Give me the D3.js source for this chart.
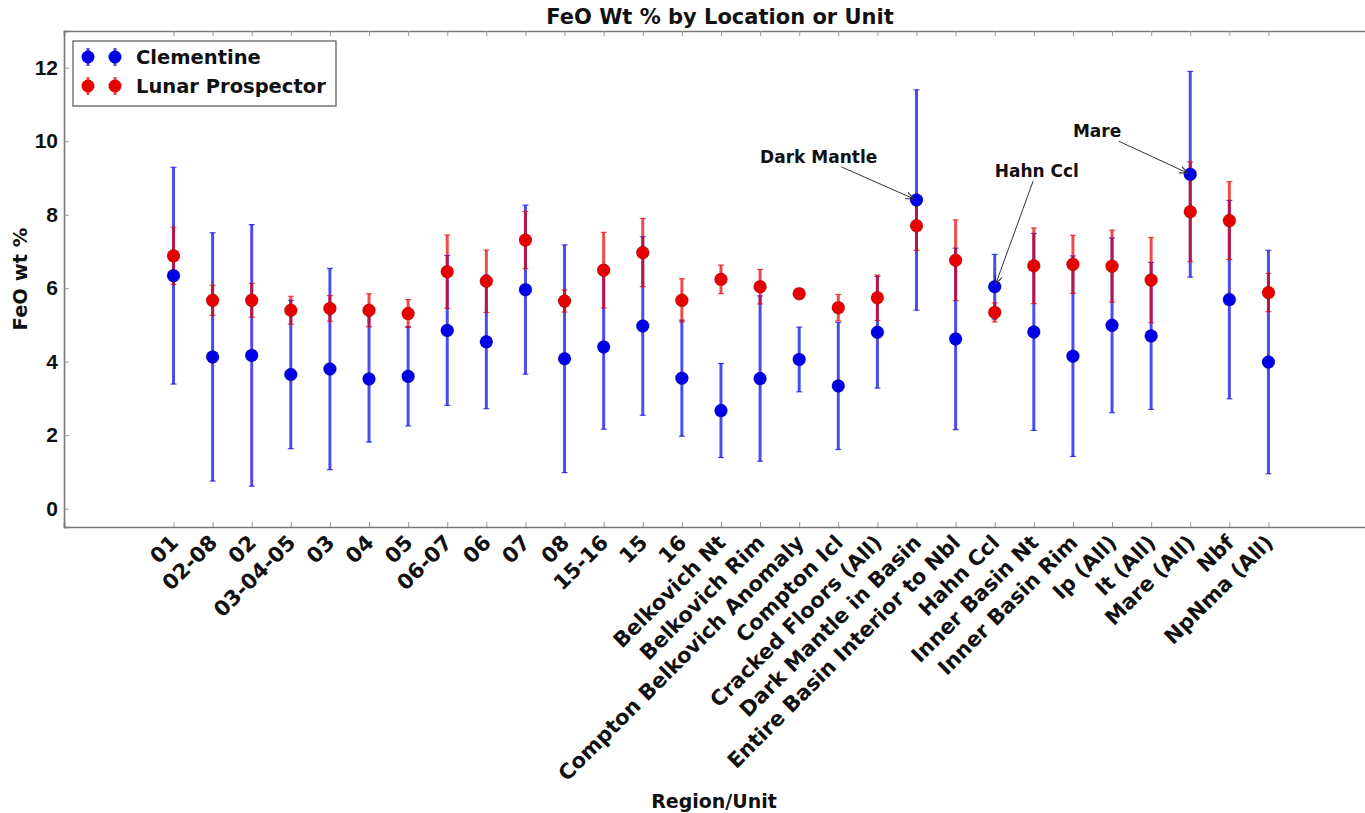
<!DOCTYPE html>
<html>
  <head>
    <meta charset="utf-8">
    <title>FeO Wt % by Location or Unit</title>
    <script src="https://d3js.org/d3.v7.min.js"></script>
    <style>
      body { margin: 0; background: #fff; }
      svg { display: block; font-family: 'DejaVu Sans', sans-serif; font-weight: bold; }
    </style>
  </head>
  <body>
    <svg id="svg"></svg>
    <script type="text/javascript">
// region / unit names, in plot order
var regions = ["01", "02-08", "02", "03-04-05", "03", "04", "05", "06-07", "06", "07", "08",
  "15-16", "15", "16", "Belkovich Nt", "Belkovich Rim", "Compton Belkovich Anomaly",
  "Compton Icl", "Cracked Floors (All)", "Dark Mantle in Basin", "Entire Basin Interior to Nbl",
  "Hahn Ccl", "Inner Basin Nt", "Inner Basin Rim", "Ip (All)", "It (All)", "Mare (All)",
  "Nbf", "NpNma (All)"];

// Clementine FeO mean and error
var clemMean = [6.34, 4.13, 4.17, 3.65, 3.80, 3.53, 3.60, 4.85, 4.54, 5.96, 4.08, 4.40, 4.97,
  3.55, 2.67, 3.54, 4.06, 3.34, 4.80, 8.40, 4.62, 6.04, 4.81, 4.15, 4.99, 4.70, 9.10, 5.69, 3.99];
var clemErr = [2.95, 3.38, 3.56, 2.02, 2.74, 1.72, 1.35, 2.04, 1.82, 2.30, 3.10, 2.24, 2.43,
  1.58, 1.28, 2.25, 0.88, 1.73, 1.52, 3.00, 2.47, 0.88, 2.68, 2.73, 2.38, 2.00, 2.80, 2.70, 3.04];

// Lunar Prospector FeO mean and error
var lpMean = [6.88, 5.67, 5.67, 5.40, 5.45, 5.40, 5.31, 6.45, 6.19, 7.31, 5.65, 6.49, 6.97,
  5.67, 6.24, 6.04, 5.85, 5.47, 5.74, 7.70, 6.76, 5.34, 6.61, 6.65, 6.60, 6.22, 8.08, 7.84, 5.88];
var lpErr = [0.78, 0.41, 0.46, 0.38, 0.35, 0.45, 0.38, 1.00, 0.85, 0.78, 0.30, 1.03, 0.93,
  0.59, 0.39, 0.47, 0.08, 0.36, 0.62, 0.67, 1.10, 0.26, 1.03, 0.79, 0.98, 1.16, 1.36, 1.06, 0.52];

var yTicks = [0, 2, 4, 6, 8, 10, 12];

// annotations: label, target (index, value), text position (index, value)
var notes = [
  {text: "Dark Mantle", x: 19, y: 8.40, tx: 15.0, ty: 9.41},
  {text: "Hahn Ccl", x: 21, y: 6.04, tx: 21.0, ty: 9.03},
  {text: "Mare", x: 26, y: 9.10, tx: 23.0, ty: 10.11}
];

var W = 1365, H = 813;
var mLeft = 64, mRight = 1376, mTop = 31, mBottom = 527;

var svg = d3.select('#svg').attr('width', W).attr('height', H);

var x = d3.scaleLinear().domain([-2.8, 30.75]).range([mLeft, mRight]);
var y = d3.scaleLinear().domain([-0.5, 13]).range([mBottom, mTop]);

var blue = '#0000e6', red = '#e60000';

// axes (ticks pointing inward like old matplotlib)
var bottomAxis = d3.axisBottom(x).tickValues(d3.range(regions.length)).tickSize(-5).tickFormat('');
var topAxis = d3.axisTop(x).tickValues(d3.range(regions.length)).tickSize(-5).tickFormat('');
var leftAxis = d3.axisLeft(y).tickValues(yTicks).tickSize(-5).tickPadding(6).tickFormat(d3.format('d'));

svg.append('g').attr('transform', 'translate(0,' + mBottom + ')').call(bottomAxis);
svg.append('g').attr('transform', 'translate(0,' + mTop + ')').call(topAxis);
var ly = svg.append('g').attr('transform', 'translate(' + mLeft + ',0)').call(leftAxis);
ly.selectAll('text').style('font-size', '21px').style('font-weight', 'bold').attr('fill', '#111');
svg.selectAll('.domain').attr('stroke', '#777').attr('stroke-width', 1.6);
svg.selectAll('.tick line').attr('stroke', '#999');

// rotated x tick labels
svg.append('g').selectAll('text')
  .data(regions)
  .enter()
  .append('text')
  .attr('transform', function(d, i) { return 'translate(' + (x(i) + 6) + ',' + (mBottom + 17) + ') rotate(-45)'; })
  .attr('text-anchor', 'end')
  .style('font-size', '21px')
  .attr('fill', '#111')
  .text(function(d) { return d; });

// error bars
function drawSeries(mean, err, col) {
  var g = svg.append('g');
  mean.forEach(function(m, i) {
    var lo = m - err[i], hi = m + err[i];
    g.append('line').attr('x1', x(i)).attr('x2', x(i)).attr('y1', y(lo)).attr('y2', y(hi))
      .attr('stroke', col).attr('stroke-width', 3).attr('stroke-opacity', 0.7);
    [lo, hi].forEach(function(v) {
      g.append('line').attr('x1', x(i) - 3).attr('x2', x(i) + 3).attr('y1', y(v)).attr('y2', y(v))
        .attr('stroke', col).attr('stroke-width', 1.2).attr('stroke-opacity', 0.7);
    });
  });
}
drawSeries(clemMean, clemErr, blue);
drawSeries(lpMean, lpErr, red);

function drawDots(mean, col) {
  svg.append('g').selectAll('circle')
    .data(mean)
    .enter()
    .append('circle')
    .attr('cx', function(d, i) { return x(i); })
    .attr('cy', function(d) { return y(d); })
    .attr('r', 6.5)
    .attr('fill', col)
    .attr('stroke', '#000')
    .attr('stroke-opacity', 0.3)
    .attr('stroke-width', 0.5);
}
drawDots(clemMean, blue);
drawDots(lpMean, red);

// annotations with arrows
svg.append('defs').append('marker')
  .attr('id', 'head')
  .attr('viewBox', '0 0 10 10')
  .attr('refX', 9).attr('refY', 5)
  .attr('markerWidth', 9).attr('markerHeight', 9)
  .attr('markerUnits', 'userSpaceOnUse')
  .attr('orient', 'auto')
  .append('path')
  .attr('d', 'M0,1 L9,5 L0,9')
  .attr('fill', 'none')
  .attr('stroke', '#333')
  .attr('stroke-width', 1.2);

notes.forEach(function(n) {
  var t = svg.append('text')
    .attr('x', x(n.tx)).attr('y', y(n.ty))
    .style('font-size', '17px')
    .attr('fill', '#111')
    .text(n.text);
  var b = t.node().getBBox();
  var cx = b.x + b.width / 2, cy = b.y + b.height / 2;
  var px = x(n.x), py = y(n.y);
  var dx = px - cx, dy = py - cy;
  // clip start to the text box
  var s = Math.min(Math.abs((b.width / 2) / (dx || 1e-9)), Math.abs((b.height / 2) / (dy || 1e-9)));
  var len = Math.sqrt(dx * dx + dy * dy);
  var e = 1 - 3 / len;
  svg.append('line')
    .attr('x1', cx + dx * s).attr('y1', cy + dy * s)
    .attr('x2', cx + dx * e).attr('y2', cy + dy * e)
    .attr('stroke', '#333').attr('stroke-width', 1)
    .attr('marker-end', 'url(#head)');
});

// legend
var leg = svg.append('g');
leg.append('rect').attr('x', 73).attr('y', 41).attr('width', 263).attr('height', 65)
  .attr('fill', '#fff').attr('stroke', '#555').attr('stroke-width', 1.2);
[{name: 'Clementine', col: blue, cy: 57}, {name: 'Lunar Prospector', col: red, cy: 86}].forEach(function(d) {
  [88, 115].forEach(function(mx) {
    leg.append('line').attr('x1', mx).attr('x2', mx).attr('y1', d.cy - 9).attr('y2', d.cy + 9)
      .attr('stroke', d.col).attr('stroke-width', 3).attr('stroke-opacity', 0.7);
    leg.append('circle').attr('cx', mx).attr('cy', d.cy).attr('r', 6.5).attr('fill', d.col);
  });
  leg.append('text').attr('x', 136).attr('y', d.cy + 7).style('font-size', '19.5px')
    .attr('fill', '#111').text(d.name);
});

// titles
svg.append('text').attr('x', (mLeft + mRight) / 2).attr('y', 24).attr('text-anchor', 'middle')
  .style('font-size', '21px').attr('fill', '#111').text('FeO Wt % by Location or Unit');
svg.append('text').attr('transform', 'translate(27,' + ((mTop + mBottom) / 2) + ') rotate(-90)')
  .attr('text-anchor', 'middle').style('font-size', '19.5px').attr('fill', '#111').text('FeO wt %');
svg.append('text').attr('x', (mLeft + mRight) / 2 - 6).attr('y', 808).attr('text-anchor', 'middle')
  .style('font-size', '19px').attr('fill', '#111').text('Region/Unit');
    </script>
  </body>
</html>
